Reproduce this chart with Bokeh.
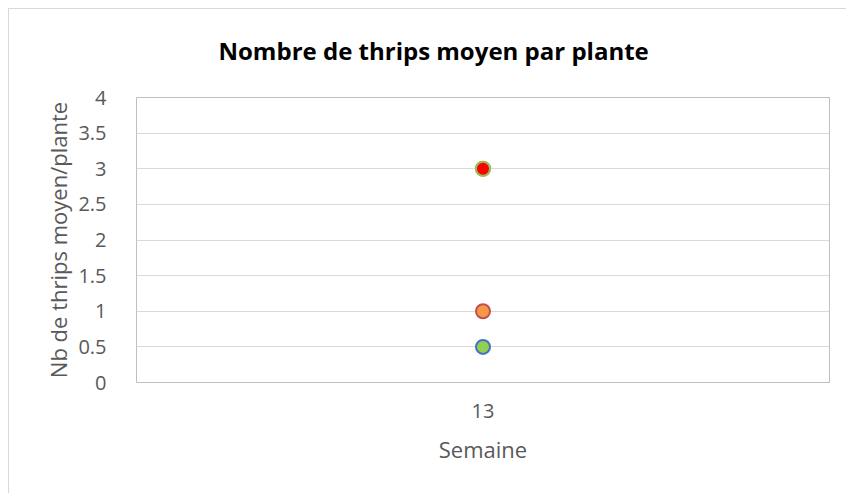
from bokeh.plotting import figure
from bokeh.models import Title, FixedTicker, Range1d
from bokeh.embed import file_html
from bokeh.resources import INLINE

weeks = ["13"]
series_a = [0.5]
series_b = [1.0]
series_c = [3.0]
series_d = [3.0]

fills = ["#92D050", "#F79646", "#9BBB59", "#FF0000"]
lines = ["#4472C4", "#C0504D", "#9BBB59", "#9BBB59"]

y_ticks = [0, 0.5, 1, 1.5, 2, 2.5, 3, 3.5, 4]

p = figure(width=838, height=493, x_range=weeks, y_range=Range1d(0, 4),
           output_backend="svg", toolbar_location=None, title=None,
           min_border_left=128, min_border_right=17, min_border_top=60,
           min_border_bottom=111)

# outer chart border (left and top edges only visible), drawn as CSS backgrounds
p.styles = {
    "margin-left": "8px",
    "background": ("linear-gradient(#d9d9d9, #d9d9d9) 0 8px / 100% 1px no-repeat, "
                   "linear-gradient(#d9d9d9, #d9d9d9) 0 8px / 1px 100% no-repeat, #ffffff"),
}
p.border_fill_color = None
p.background_fill_color = "#ffffff"

for vals, fc, lc in zip([series_a, series_b, series_c, series_d], fills, lines):
    p.scatter(x=weeks, y=vals, size=14, fill_color=fc, line_color=lc, line_width=2)

p.add_layout(Title(text="Nombre de thrips moyen par plante", text_font="Open Sans",
                   text_font_size="24px", text_font_style="bold", text_color="#000000",
                   align="left", offset=82, standoff=62), "above")

p.outline_line_color = "#bfbfbf"
p.outline_line_width = 1

p.yaxis.ticker = FixedTicker(ticks=y_ticks)
p.yaxis.major_label_overrides = {0: "0", 1: "1", 2: "2", 3: "3", 4: "4"}
for ax in [p.xaxis[0], p.yaxis[0]]:
    ax.axis_line_color = None
    ax.major_tick_line_color = None
    ax.minor_tick_line_color = None
    ax.major_label_text_font = "Open Sans"
    ax.major_label_text_font_size = "20px"
    ax.major_label_text_color = "#595959"
    ax.axis_label_text_font = "Open Sans"
    ax.axis_label_text_font_size = "22px"
    ax.axis_label_text_font_style = "normal"
    ax.axis_label_text_color = "#595959"

p.yaxis.axis_label = "Nb de thrips moyen/plante"
p.xaxis.axis_label = "Semaine"
p.yaxis.major_label_standoff = 24
p.yaxis.axis_label_standoff = 2
p.xaxis.major_label_standoff = 15
p.xaxis.axis_label_standoff = 13

p.xgrid.grid_line_color = None
p.ygrid.grid_line_color = "#d9d9d9"
p.ygrid.grid_line_width = 1

open("out.html", "w").write(file_html(p, INLINE))
